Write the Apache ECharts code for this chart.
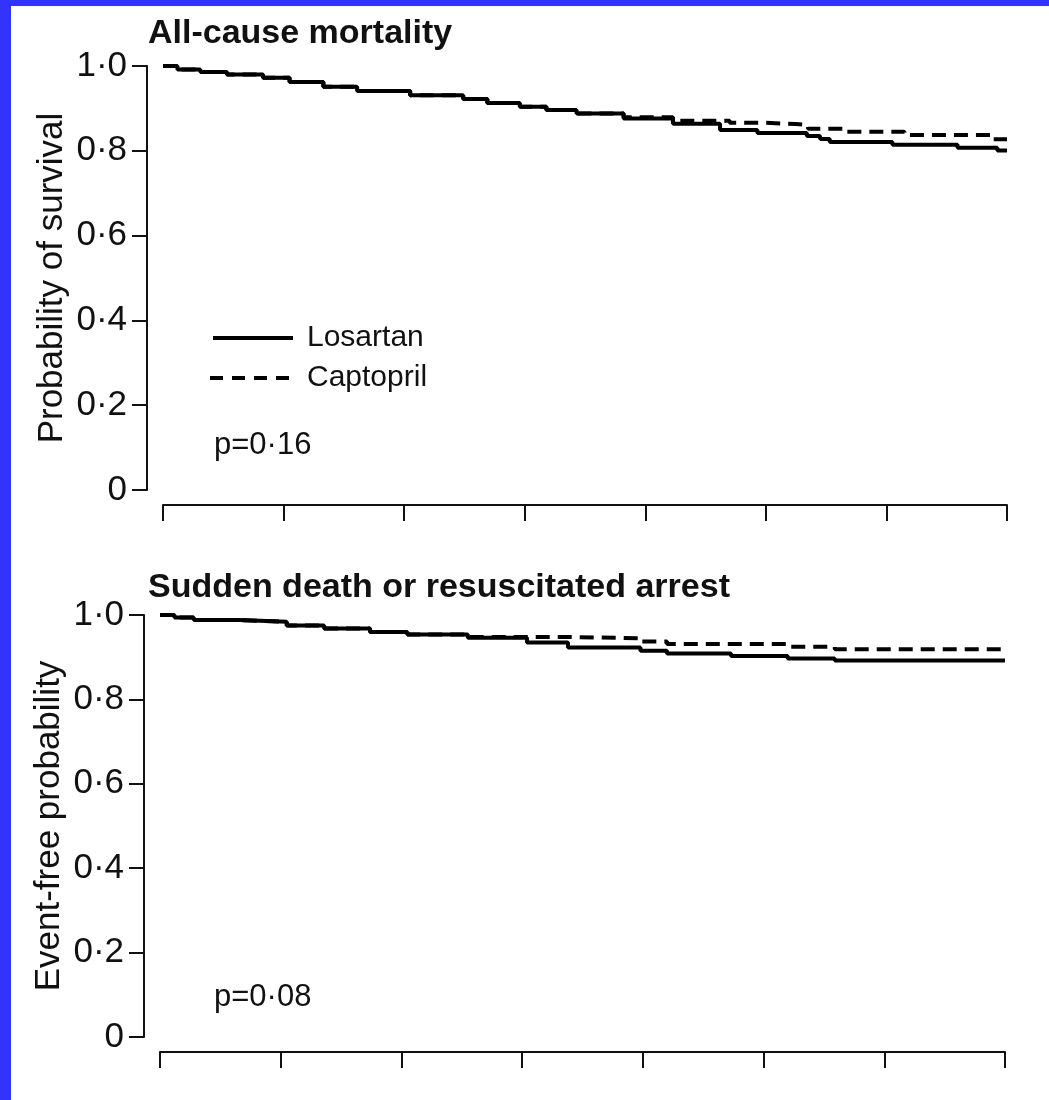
<!DOCTYPE html>
<html>
<head>
<meta charset="utf-8">
<script src="https://cdn.jsdelivr.net/npm/echarts@6/dist/echarts.min.js"></script>
<style>
  html, body { margin: 0; padding: 0; background: #fff; }
  #chart { width: 1049px; height: 1100px; }
</style>
</head>
<body>
<div id="chart"></div>
<script>
// Panel texts
const panelTitles = ['All-cause mortality', 'Sudden death or resuscitated arrest'];
const yAxisNames = ['Probability of survival', 'Event-free probability'];
const pValues = ['p=0·16', 'p=0·08'];
const yTickLabels = ['0', '0·2', '0·4', '0·6', '0·8', '1·0'];
const treatmentNames = ['Losartan', 'Captopril'];

// Follow-up time span (days) and tick step
const followUpMax = 700;
const followUpStep = 100;

// Kaplan-Meier steps: [day, probability from that day on]
const mortalityLosartan = [
  [0, 1.0], [12, 0.992], [31, 0.986], [53, 0.98], [83, 0.972], [105, 0.962],
  [133, 0.951], [161, 0.941], [205, 0.931], [249, 0.922], [269, 0.913],
  [296, 0.904], [318, 0.896], [343, 0.888], [382, 0.876], [423, 0.864],
  [462, 0.849], [493, 0.842], [534, 0.835], [545, 0.828], [553, 0.821],
  [605, 0.814], [659, 0.807], [692, 0.801], [700, 0.801]
];
const mortalityCaptopril = [
  [0, 1.0], [12, 0.992], [31, 0.986], [53, 0.98], [83, 0.972], [105, 0.962],
  [133, 0.951], [161, 0.941], [205, 0.931], [249, 0.922], [269, 0.913],
  [296, 0.904], [318, 0.896], [343, 0.888], [382, 0.879], [423, 0.871],
  [470, 0.866], [500, 0.863], [525, 0.861], [535, 0.852], [565, 0.845],
  [615, 0.837], [688, 0.827], [700, 0.827]
];
const suddenDeathLosartan = [
  [0, 1.0], [12, 0.994], [28, 0.988], [66, 0.984], [105, 0.975], [136, 0.968],
  [174, 0.96], [205, 0.954], [255, 0.946], [304, 0.935], [338, 0.923],
  [398, 0.915], [420, 0.909], [473, 0.903], [520, 0.897], [559, 0.892],
  [700, 0.892]
];
const suddenDeathCaptopril = [
  [0, 1.0], [12, 0.994], [28, 0.988], [66, 0.984], [105, 0.975], [136, 0.968],
  [174, 0.96], [205, 0.954], [255, 0.948], [338, 0.945], [398, 0.937],
  [420, 0.931], [520, 0.925], [559, 0.919], [700, 0.919]
];

const ink = '#111';
const font = '"Liberation Sans", Arial, sans-serif';
const dashPattern = [14, 8];

const chart = echarts.init(document.getElementById('chart'), null, { renderer: 'canvas' });

function yAxisFor(gridIndex, name) {
  return {
    gridIndex: gridIndex,
    type: 'value',
    min: 0, max: 1, interval: 0.2,
    position: 'left',
    offset: 16,
    name: name,
    nameLocation: 'middle',
    nameGap: 77,
    nameMoveOverlap: false,
    nameTextStyle: { fontFamily: font, fontSize: 35, color: ink },
    axisLine: { show: true, onZero: false, lineStyle: { color: ink, width: 2 } },
    axisTick: { show: true, length: 15, lineStyle: { color: ink, width: 2 } },
    axisLabel: {
      margin: 20, fontFamily: font, fontSize: 35, color: ink,
      formatter: v => yTickLabels[Math.round(v / 0.2)]
    },
    splitLine: { show: false }
  };
}

function xAxisFor(gridIndex) {
  return {
    gridIndex: gridIndex,
    type: 'value',
    min: 0, max: followUpMax, interval: followUpStep,
    position: 'bottom',
    offset: 15,
    axisLine: { show: true, onZero: false, lineStyle: { color: ink, width: 2 } },
    axisTick: { show: true, length: 16, lineStyle: { color: ink, width: 2 } },
    axisLabel: { show: false },
    splitLine: { show: false }
  };
}

function curve(name, data, gridIndex, dashed) {
  return {
    name: name,
    type: 'line',
    step: 'end',
    xAxisIndex: gridIndex,
    yAxisIndex: gridIndex,
    data: data,
    symbol: 'none',
    lineStyle: { color: '#000', width: 4, type: dashed ? dashPattern : 'solid', cap: 'butt' },
    itemStyle: { color: '#000' },
    emphasis: { disabled: true }
  };
}

const titleStyle = { fontFamily: font, fontSize: 34, fontWeight: 'bold', color: ink };
const noteStyle = { fontFamily: font, fontSize: 31, fontWeight: 'normal', color: ink };

// Legend keys: a solid and a dashed stroke, each followed by its treatment name
const legendKeys = [
  { y: 338, x1: 213, dash: null },
  { y: 378, x1: 210, dash: [13, 9] }
];
const legendGraphics = [];
legendKeys.forEach((k, i) => {
  legendGraphics.push({
    type: 'line', silent: true,
    shape: { x1: k.x1, y1: k.y, x2: 293, y2: k.y },
    style: { stroke: '#000', lineWidth: 4, lineDash: k.dash || null }
  });
  legendGraphics.push({
    type: 'text', silent: true, x: 307, y: k.y,
    style: { text: treatmentNames[i], fill: ink, font: '30px ' + font, textVerticalAlign: 'middle' }
  });
});

chart.setOption({
  animation: false,
  backgroundColor: '#fff',
  title: [
    { text: panelTitles[0], left: 148, top: 17, padding: 0, textStyle: titleStyle },
    { text: panelTitles[1], left: 148, top: 571, padding: 0, textStyle: titleStyle },
    { text: pValues[0], left: 214, top: 430, padding: 0, textStyle: noteStyle },
    { text: pValues[1], left: 214, top: 982, padding: 0, textStyle: noteStyle }
  ],
  grid: [
    { left: 163, right: 42, top: 66, height: 424 },
    { left: 160, right: 44, top: 615, height: 422 }
  ],
  xAxis: [xAxisFor(0), xAxisFor(1)],
  yAxis: [yAxisFor(0, yAxisNames[0]), yAxisFor(1, yAxisNames[1])],
  series: [
    curve(treatmentNames[1], mortalityCaptopril, 0, true),
    curve(treatmentNames[0], mortalityLosartan, 0, false),
    curve(treatmentNames[1], suddenDeathCaptopril, 1, true),
    curve(treatmentNames[0], suddenDeathLosartan, 1, false)
  ],
  graphic: [
    { type: 'rect', silent: true, shape: { x: 0, y: 0, width: 11, height: 1100 }, style: { fill: '#3333ff' } },
    { type: 'rect', silent: true, shape: { x: 0, y: 0, width: 1049, height: 6 }, style: { fill: '#3333ff' } }
  ].concat(legendGraphics)
});
</script>
</body>
</html>
